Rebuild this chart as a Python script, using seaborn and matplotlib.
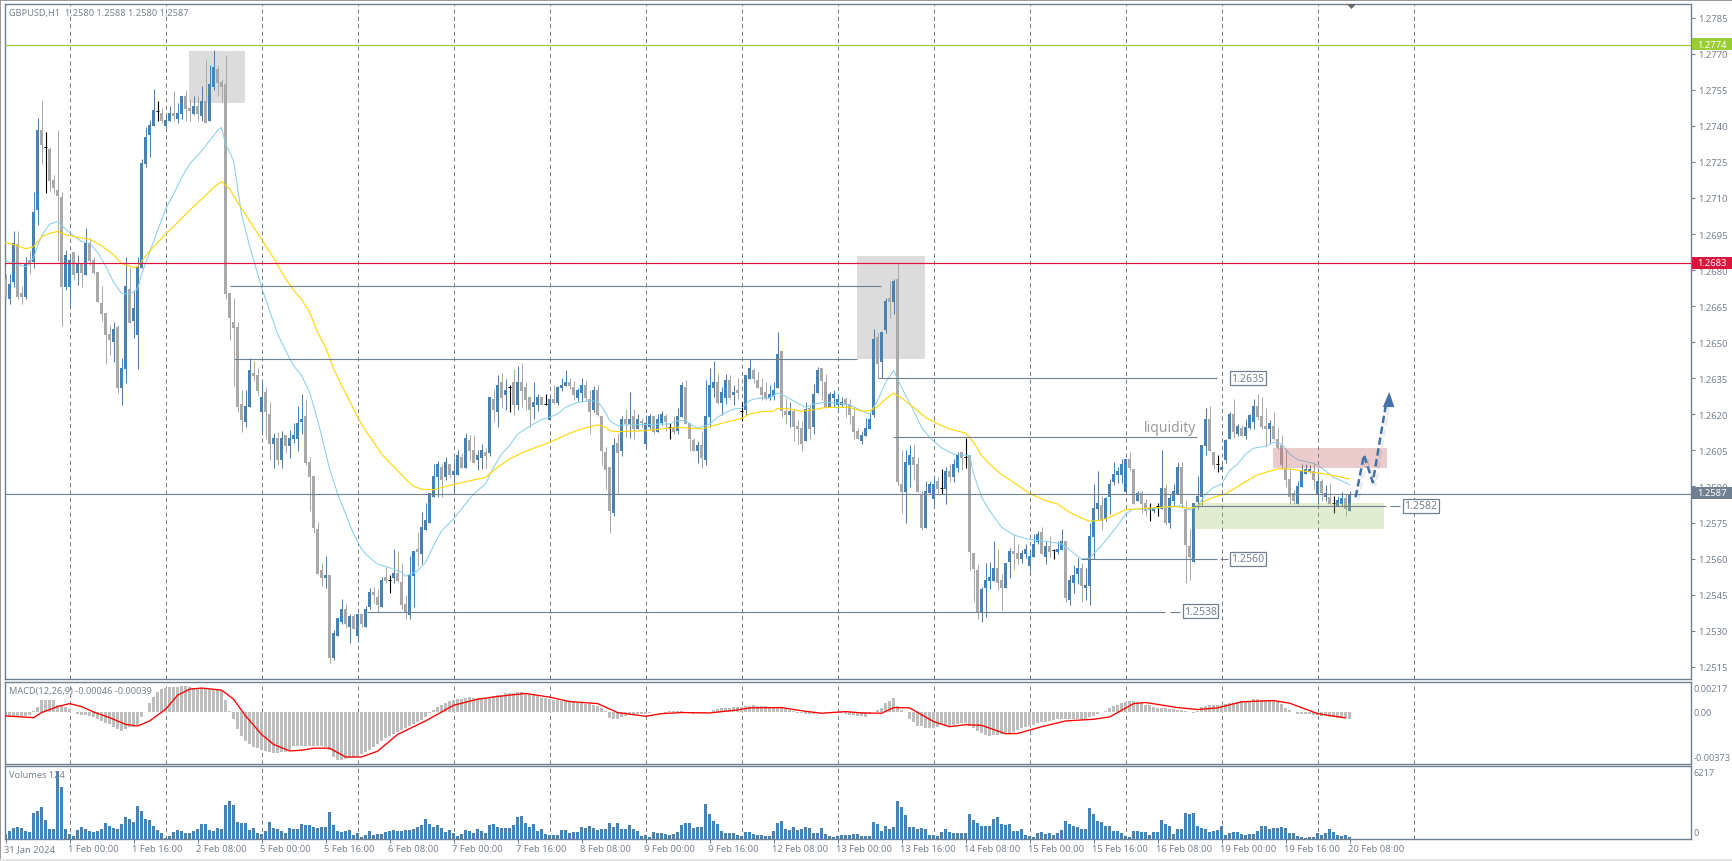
#!/usr/bin/env python
# GBPUSD H1 chart, MT4 look: candles, two EMAs, MACD and volumes

import numpy as np
import matplotlib.pyplot as plt
import seaborn as sns
from matplotlib.patches import Rectangle, Polygon
from matplotlib.lines import Line2D
from matplotlib.transforms import ScaledTranslation
import matplotlib.patheffects as pe

# prices are in pips (12676.3 = 1.26763)
OPEN = [
    12676.3,12668.0,12675.1,12690.9,12670.5,12669.0,12684.2,12683.2,12705.1,12738.3,
    12731.1,12730.4,12717.5,12713.3,12710.4,12673.1,12673.1,12687.5,12678.8,12682.5,
    12678.0,12691.3,12684.2,12679.2,12666.3,12662.2,12653.4,12650.1,12656.3,12631.0,
    12638.9,12672.1,12658.8,12653.0,12680.9,12724.1,12736.2,12740.0,12746.3,12745.4,
    12740.0,12742.0,12745.4,12742.9,12744.9,12752.4,12747.4,12744.9,12748.3,12744.1,
    12750.4,12742.0,12756.2,12763.7,12758.3,12757.4,12670.5,12658.4,12656.3,12624.3,
    12616.8,12623.1,12637.2,12636.4,12621.0,12629.3,12620.1,12607.7,12610.2,12601.0,
    12611.4,12606.8,12609.7,12609.7,12616.8,12619.3,12600.2,12594.4,12572.3,12555.3,
    12551.9,12553.2,12518.6,12527.8,12533.6,12539.0,12531.5,12536.1,12527.8,12537.0,
    12531.5,12539.9,12546.1,12544.0,12539.9,12552.3,12551.0,12551.9,12554.0,12550.3,
    12541.1,12536.5,12552.8,12564.0,12561.9,12571.9,12574.8,12585.6,12593.9,12598.1,
    12593.9,12599.3,12594.8,12594.8,12602.3,12597.7,12609.3,12605.2,12601.0,12601.9,
    12604.3,12603.9,12626.4,12621.0,12633.5,12628.1,12631.4,12633.5,12623.9,12633.5,
    12631.4,12627.2,12623.1,12623.9,12627.2,12624.3,12617.7,12626.4,12624.7,12631.0,
    12631.8,12633.5,12631.4,12626.8,12628.9,12632.2,12626.4,12621.8,12630.1,12619.3,
    12604.3,12598.1,12579.0,12608.1,12604.8,12618.1,12616.0,12619.3,12613.9,12617.2,
    12607.7,12614.7,12619.3,12612.7,12616.4,12619.3,12614.7,12614.7,12613.1,12618.9,
    12631.4,12616.4,12609.3,12604.8,12607.3,12601.0,12618.9,12631.0,12633.5,12624.7,
    12626.8,12634.3,12628.1,12630.1,12621.4,12621.8,12634.7,12638.5,12634.3,12631.4,
    12629.3,12626.8,12627.6,12631.0,12646.4,12621.4,12619.7,12621.4,12615.2,12614.3,
    12608.9,12622.6,12614.7,12628.9,12639.3,12633.5,12623.1,12626.8,12623.9,12623.9,
    12626.4,12624.3,12619.3,12613.1,12608.9,12611.0,12613.9,12619.7,12652.2,12641.8,
    12655.1,12668.4,12666.7,12676.3,12591.0,12587.7,12598.9,12602.3,12599.3,12586.9,
    12572.7,12587.3,12584.8,12592.3,12589.2,12588.9,12596.4,12593.9,12597.7,12604.3,
    12602.3,12603.1,12562.3,12555.3,12537.8,12547.8,12550.7,12550.7,12556.1,12551.1,
    12547.8,12558.6,12563.2,12562.3,12559.8,12561.9,12556.9,12560.8,12566.9,12571.1,
    12560.7,12565.2,12563.6,12562.7,12563.6,12567.3,12542.8,12549.8,12553.6,12556.1,
    12547.8,12548.6,12569.0,12580.6,12582.3,12576.5,12585.6,12591.9,12594.8,12594.8,
    12587.7,12601.4,12597.3,12584.0,12587.3,12583.1,12580.9,12579.8,12581.9,12580.6,
    12589.4,12574.8,12584.0,12586.9,12598.1,12580.6,12565.2,12558.6,12583.5,12585.6,
    12606.8,12618.1,12604.3,12599.3,12596.9,12601.0,12609.8,12620.2,12611.8,12614.3,
    12611.0,12614.3,12616.8,12623.5,12619.3,12615.2,12613.9,12615.2,12609.8,12607.3,
    12597.7,12593.1,12587.3,12582.7,12589.8,12595.2,12596.0,12596.4,12586.9,12592.3,
    12585.6,12585.6,12583.1,12581.9,12582.7,12585.2,12579.8]

HIGH = [
    12678.4,12678.4,12696.1,12696.3,12673.5,12685.3,12687.8,12712.5,12743.3,12750.5,
    12737.5,12731.1,12719.6,12738.3,12712.4,12688.4,12685.3,12687.5,12686.2,12682.5,
    12697.5,12693.4,12685.6,12679.2,12673.4,12662.2,12657.2,12658.4,12657.2,12643.4,
    12685.3,12681.4,12671.2,12685.3,12726.2,12739.7,12742.4,12755.3,12750.4,12747.4,
    12744.5,12748.3,12754.5,12749.5,12752.4,12754.9,12751.2,12752.4,12752.4,12756.6,
    12767.4,12765.3,12771.6,12764.9,12759.5,12769.5,12670.5,12668.4,12658.4,12630.1,
    12630.1,12643.4,12642.2,12639.3,12633.9,12631.4,12625.1,12612.2,12612.7,12613.1,
    12611.4,12613.5,12616.4,12623.5,12628.5,12626.4,12602.3,12594.4,12575.2,12558.2,
    12561.1,12553.2,12530.3,12535.3,12543.2,12541.1,12537.0,12537.0,12537.0,12537.0,
    12540.3,12547.8,12548.2,12547.4,12552.3,12556.5,12553.2,12564.0,12563.2,12558.2,
    12544.9,12561.1,12563.2,12571.1,12579.4,12583.1,12587.3,12599.3,12600.6,12599.3,
    12602.3,12599.3,12601.8,12605.2,12603.9,12612.3,12611.4,12611.4,12605.2,12607.7,
    12606.0,12627.2,12630.6,12636.4,12637.2,12634.7,12632.2,12638.9,12640.1,12641.4,
    12633.5,12627.2,12633.5,12628.5,12627.2,12628.5,12627.2,12632.2,12631.8,12635.1,
    12638.5,12635.1,12633.9,12631.0,12635.1,12633.9,12630.1,12631.8,12632.2,12619.3,
    12606.4,12598.1,12610.2,12612.3,12619.3,12622.2,12629.3,12622.2,12620.2,12618.5,
    12619.7,12620.2,12619.3,12620.2,12621.4,12620.2,12616.4,12619.3,12622.7,12633.5,
    12634.3,12616.4,12610.2,12608.9,12613.1,12634.3,12639.3,12642.2,12636.8,12631.4,
    12636.8,12636.4,12632.2,12635.1,12625.1,12636.4,12643.0,12639.3,12637.6,12635.1,
    12633.5,12632.2,12633.5,12654.3,12646.4,12626.8,12625.1,12622.2,12617.7,12617.2,
    12625.1,12623.9,12632.6,12639.7,12639.3,12636.8,12629.3,12630.1,12628.5,12627.2,
    12627.2,12626.4,12623.1,12614.3,12613.1,12618.5,12620.6,12655.5,12653.9,12654.3,
    12668.4,12675.5,12676.3,12683.2,12605.2,12605.2,12607.3,12607.3,12602.3,12588.1,
    12592.3,12592.3,12593.9,12593.9,12597.3,12598.1,12599.3,12601.4,12604.3,12604.3,
    12610.2,12603.1,12562.3,12557.3,12548.0,12558.2,12558.6,12567.3,12564.0,12553.6,
    12558.2,12564.4,12570.2,12566.1,12563.6,12566.1,12564.0,12570.2,12571.5,12573.1,
    12567.3,12569.4,12564.0,12567.3,12572.3,12567.3,12553.2,12557.3,12560.2,12558.2,
    12556.1,12574.8,12591.0,12596.4,12586.0,12585.6,12593.1,12600.2,12598.1,12601.4,
    12601.4,12604.3,12597.3,12588.1,12588.1,12584.8,12583.1,12581.4,12583.1,12605.2,
    12591.0,12586.9,12591.0,12600.2,12600.2,12584.0,12572.3,12583.1,12594.4,12607.3,
    12622.7,12623.5,12604.3,12603.1,12599.3,12609.8,12621.0,12626.4,12616.0,12615.6,
    12618.1,12620.2,12626.4,12628.5,12627.2,12622.7,12617.7,12621.0,12614.3,12611.4,
    12605.6,12597.3,12588.5,12592.3,12599.3,12599.3,12598.9,12599.8,12596.0,12593.1,
    12590.6,12591.4,12586.0,12586.0,12587.7,12586.9,12588.1]

LOW = [
    12668.7,12665.9,12672.8,12668.0,12665.9,12668.0,12678.4,12680.9,12698.8,12724.1,
    12712.1,12713.0,12712.1,12683.9,12656.8,12671.7,12665.2,12675.9,12673.7,12673.1,
    12678.0,12682.3,12678.4,12666.7,12659.0,12640.9,12644.7,12641.8,12628.9,12624.0,
    12633.0,12658.0,12651.8,12638.9,12680.9,12722.9,12727.1,12740.0,12742.0,12741.2,
    12739.1,12742.0,12742.0,12741.2,12742.9,12742.0,12742.0,12744.5,12742.0,12742.0,
    12741.2,12742.0,12754.9,12752.8,12749.9,12668.0,12650.9,12631.8,12621.0,12612.7,
    12614.7,12623.1,12633.9,12628.0,12612.7,12609.7,12601.0,12597.7,12598.9,12597.7,
    12603.9,12601.8,12608.1,12604.8,12611.8,12598.9,12579.8,12570.6,12553.6,12548.6,
    12547.8,12516.6,12517.8,12527.8,12532.8,12531.1,12524.9,12530.7,12525.3,12531.5,
    12531.5,12539.0,12541.5,12537.6,12539.9,12549.8,12545.7,12549.8,12550.3,12539.0,
    12534.9,12534.9,12539.9,12557.1,12557.8,12571.9,12574.8,12585.6,12585.6,12585.6,
    12592.7,12593.5,12587.7,12594.8,12597.7,12597.7,12600.6,12599.8,12596.9,12597.3,
    12597.7,12602.7,12616.8,12614.7,12622.6,12621.8,12621.0,12619.7,12621.8,12623.1,
    12621.8,12614.7,12618.1,12621.4,12623.9,12623.9,12617.7,12624.3,12623.9,12629.7,
    12631.8,12630.6,12626.0,12625.6,12625.1,12625.6,12611.8,12621.0,12619.3,12598.9,
    12589.0,12570.7,12577.7,12586.9,12602.7,12610.6,12610.2,12609.8,12613.9,12614.7,
    12605.6,12613.9,12611.8,12612.7,12615.6,12613.1,12609.8,12611.8,12611.8,12618.9,
    12616.0,12604.8,12604.8,12599.8,12597.7,12598.9,12614.7,12627.2,12624.3,12619.7,
    12624.3,12626.4,12623.9,12626.4,12617.2,12619.7,12634.7,12633.1,12631.0,12626.0,
    12626.0,12626.0,12626.0,12631.0,12618.9,12616.0,12614.7,12608.9,12607.7,12604.8,
    12608.9,12609.8,12611.8,12628.9,12626.0,12622.6,12623.1,12623.1,12622.2,12623.1,
    12618.9,12616.0,12609.8,12609.8,12607.7,12611.0,12613.9,12618.9,12635.1,12635.1,
    12653.8,12660.1,12661.7,12590.2,12579.0,12574.8,12589.8,12592.7,12587.7,12571.9,
    12572.7,12587.3,12581.9,12587.3,12586.9,12582.7,12591.9,12591.9,12596.0,12596.9,
    12597.7,12555.3,12541.9,12534.9,12533.6,12535.7,12547.4,12550.7,12546.9,12538.8,
    12547.8,12551.9,12555.7,12557.8,12558.2,12560.2,12555.0,12560.8,12566.1,12561.9,
    12557.8,12560.7,12559.8,12561.9,12563.6,12541.9,12540.7,12545.7,12549.4,12541.9,
    12542.8,12540.7,12559.8,12576.0,12571.9,12575.6,12578.5,12590.6,12591.4,12591.4,
    12587.7,12596.9,12582.7,12584.0,12579.0,12577.7,12575.6,12579.0,12577.7,12580.6,
    12574.0,12572.7,12581.9,12586.9,12581.0,12549.9,12551.2,12558.6,12580.6,12582.3,
    12603.1,12604.8,12597.3,12596.0,12596.9,12599.8,12609.8,12610.2,12611.0,12611.0,
    12609.8,12613.9,12613.9,12617.7,12613.9,12606.4,12608.1,12609.3,12605.6,12597.3,
    12589.8,12582.7,12582.7,12582.7,12589.8,12595.2,12595.6,12589.0,12582.7,12584.0,
    12584.0,12582.7,12579.0,12581.9,12581.9,12577.7,12579.8]

CLOSE = [
    12668.7,12674.2,12691.3,12669.0,12669.0,12683.1,12683.1,12704.2,12738.3,12732.0,
    12731.1,12717.2,12714.2,12710.8,12673.1,12686.3,12684.2,12678.0,12682.5,12678.8,
    12691.3,12683.8,12678.8,12666.7,12661.7,12653.0,12650.9,12655.5,12631.0,12639.3,
    12673.4,12658.0,12664.2,12681.4,12724.6,12735.4,12740.4,12746.6,12746.3,12742.0,
    12742.4,12745.4,12744.1,12745.4,12752.4,12747.0,12746.2,12748.3,12744.9,12750.4,
    12741.2,12757.4,12764.5,12757.8,12756.2,12670.1,12660.1,12655.9,12623.1,12617.7,
    12623.5,12638.4,12636.0,12629.7,12627.2,12621.0,12607.7,12610.2,12601.0,12610.2,
    12606.8,12610.2,12611.4,12616.4,12618.1,12599.8,12593.9,12572.7,12553.6,12551.9,
    12553.2,12518.6,12529.0,12535.3,12539.0,12532.8,12536.1,12530.7,12537.0,12532.8,
    12539.0,12546.1,12544.9,12540.7,12551.1,12550.7,12551.0,12554.0,12550.7,12540.7,
    12537.6,12553.2,12563.2,12562.7,12573.1,12576.1,12587.3,12594.4,12599.3,12592.7,
    12600.2,12594.8,12596.4,12603.1,12597.7,12610.2,12604.8,12599.8,12603.1,12605.2,
    12602.7,12627.2,12621.8,12632.2,12626.8,12630.1,12631.4,12623.9,12633.5,12629.7,
    12626.0,12621.8,12625.1,12627.2,12623.9,12624.3,12626.4,12624.7,12631.4,12632.2,
    12633.5,12631.8,12628.1,12630.1,12632.2,12626.8,12621.0,12630.1,12619.7,12604.8,
    12596.9,12579.8,12607.3,12603.9,12618.1,12616.0,12618.1,12613.9,12618.1,12616.4,
    12616.4,12619.3,12612.7,12618.1,12620.2,12616.8,12614.7,12612.7,12619.3,12632.2,
    12616.0,12609.8,12604.8,12607.3,12601.9,12619.3,12632.2,12633.5,12624.7,12629.3,
    12634.3,12626.8,12629.3,12628.9,12621.4,12636.4,12639.3,12634.7,12631.0,12628.1,
    12626.4,12628.5,12630.1,12645.1,12621.4,12619.7,12621.4,12614.7,12613.9,12607.7,
    12622.2,12613.9,12628.5,12638.5,12633.9,12623.1,12628.5,12628.5,12626.4,12625.1,
    12623.9,12619.7,12612.7,12609.8,12611.4,12614.3,12618.1,12651.4,12641.0,12654.3,
    12667.1,12666.7,12675.5,12591.9,12587.7,12600.2,12603.1,12598.9,12587.7,12572.7,
    12588.1,12591.0,12591.0,12588.9,12589.2,12596.4,12593.9,12599.3,12603.1,12601.8,
    12602.3,12562.7,12555.7,12537.8,12547.4,12551.1,12552.3,12556.1,12549.8,12547.8,
    12558.2,12563.2,12561.9,12559.8,12562.3,12564.0,12561.1,12566.1,12570.2,12561.9,
    12565.2,12562.7,12563.6,12564.0,12567.3,12543.6,12551.1,12553.2,12556.1,12548.6,
    12549.0,12569.4,12581.0,12583.1,12575.6,12585.2,12591.0,12595.2,12596.4,12599.3,
    12601.4,12597.7,12582.7,12587.3,12582.7,12579.8,12580.9,12581.0,12581.9,12589.4,
    12574.8,12585.2,12588.1,12598.1,12582.7,12565.7,12560.7,12583.1,12586.0,12607.3,
    12618.1,12604.8,12598.9,12599.3,12598.1,12609.3,12620.2,12612.7,12615.2,12611.0,
    12614.7,12619.7,12623.5,12618.9,12614.7,12613.9,12616.4,12609.8,12606.0,12598.9,
    12592.7,12585.6,12584.0,12590.2,12596.4,12597.3,12597.3,12592.7,12592.3,12587.3,
    12587.3,12582.7,12583.1,12584.4,12585.2,12580.6,12586.9]

VOLUME = [
    458,732,1037,1098,976,732,671,2410,2562,2928,
    1738,915,915,6217,4697,946,488,275,824,1098,
    915,763,671,732,946,1464,1159,1037,946,1373,
    2013,1830,1556,3020,2562,1830,1739,1190,824,549,
    122,275,641,824,732,549,580,732,915,1373,
    1373,824,702,976,915,3081,3477,3111,1556,1495,
    1434,824,976,549,458,732,1556,1037,915,763,
    519,976,915,946,1373,1251,1251,1068,976,1129,
    1098,2471,1281,732,641,763,793,366,580,214,
    366,732,366,458,488,671,732,824,763,763,
    824,824,946,1098,1281,1830,1373,1129,1251,976,
    671,824,519,275,458,793,732,580,946,702,
    519,1281,1373,1129,1007,1007,1037,1281,2044,2105,
    1434,1129,1342,763,915,427,366,397,366,824,
    824,519,641,641,1068,976,1190,1007,824,885,
    946,1464,1129,1464,915,946,1312,946,702,305,
    336,153,641,580,519,458,397,458,671,1281,
    1434,1464,1007,1129,1129,3203,2288,1647,1403,732,
    519,549,549,366,244,641,641,458,366,366,
    305,275,732,1434,1647,946,824,1129,824,946,
    1068,1037,580,519,1007,458,305,214,305,336,
    397,366,458,427,305,305,305,1586,1403,732,
    1190,946,1098,3477,2928,2196,1098,1098,915,976,
    915,366,366,244,641,915,641,549,549,549,
    549,2288,1739,1464,1190,1190,1190,1830,2013,1373,
    1281,1373,732,732,915,366,275,183,580,641,
    458,549,366,549,824,1647,1373,1220,1098,915,
    915,2837,2288,1647,1556,1190,1190,732,732,580,
    275,183,732,732,641,641,366,641,641,1739,
    1373,1190,458,915,915,2379,2288,2379,1190,1007,
    915,641,732,824,1190,366,549,641,641,458,
    366,458,458,732,1190,1190,946,1007,1007,1098,
    1007,549,549,275,183,61,183,183,549,366,
    549,915,641,366,275,366,183]

# MACD histogram in units of 0.00001
MACD_HIST = [
    -27,-29,-29,-29,-29,-29,-17,10,39,88,
    88,88,88,54,51,41,22,2,-15,-20,
    -20,-24,-34,-46,-61,-76,-88,-105,-120,-137,
    -120,-110,-105,-95,-32,2,71,110,144,168,
    173,181,183,185,188,190,181,178,176,173,
    173,168,168,163,163,88,12,-51,-120,-173,
    -210,-234,-251,-261,-271,-281,-288,-295,-295,-290,
    -290,-271,-246,-246,-244,-242,-242,-242,-242,-244,
    -249,-273,-325,-349,-344,-339,-334,-329,-325,-305,
    -288,-271,-249,-227,-207,-190,-173,-159,-142,-127,
    -112,-100,-85,-73,-59,-32,-7,17,37,51,
    71,81,90,95,100,105,110,107,107,107,
    107,107,115,124,129,137,139,142,144,144,
    139,134,127,115,107,102,95,88,88,85,
    83,81,76,71,71,63,59,51,44,29,
    12,-41,-46,-49,-37,-27,-20,-15,-15,-15,
    -10,-5,2,2,0,-2,7,7,12,7,
    -2,-5,-10,-7,-5,-2,5,15,24,29,
    32,34,37,37,41,44,46,51,49,46,
    44,41,39,34,32,27,17,7,-2,-7,
    -12,-12,-10,-5,2,2,0,0,-2,-7,
    -12,-17,-22,-24,-27,-34,-15,0,15,34,
    71,85,102,49,20,0,-49,-73,-98,-102,
    -112,-117,-115,-110,-93,-102,-98,-93,-83,-78,
    -81,-98,-112,-137,-154,-163,-173,-168,-163,-159,
    -154,-154,-142,-127,-117,-110,-98,-90,-81,-73,
    -68,-61,-54,-51,-51,-51,-51,-49,-51,-56,
    -49,-34,-27,-12,5,12,29,49,56,66,
    76,85,83,73,66,56,51,39,34,32,
    29,27,27,20,15,10,0,-7,12,37,
    49,54,54,56,56,61,66,68,78,81,
    85,85,93,93,90,88,88,85,73,59,
    32,15,0,-12,-12,-12,-15,-17,-22,-24,
    -27,-32,-37,-41,-44,-44,-46]

# the indicator lines are read at these bars only
SIGNAL_BARS = [0,3,7,9,13,16,19,22,26,30,33,36,40,43,46,49,54,57,60,64,67,71,74,77,81,85,89,93,98,105,
               112,118,123,130,136,141,148,153,160,164,169,176,183,186,194,200,204,210,214,219,222,226,
               232,236,240,244,250,253,259,265,272,276,282,285,293,298,303,309,317,321,328,335]
SIGNAL = [-27,-32,-39,-2,41,63,41,2,-39,-88,-100,-63,22,124,168,176,161,95,-27,-161,-234,-281,-276,-261,-261,
          -325,-325,-283,-161,-63,51,95,115,137,110,78,63,-2,-29,-10,-2,-5,17,32,34,7,-7,5,-5,-7,34,32,
          -68,-105,-90,-95,-156,-154,-105,-63,-51,-34,63,71,34,20,32,76,85,66,-10,-41]

EMA_FAST_BARS = [0,5,6,7,9,11,13,15,17,19,21,23,25,27,29,31,33,34,36,38,40,42,44,46,49,51,53,54,55,57,59,61,64,66,68,70,
                 72,74,76,77,79,81,83,85,87,89,90,93,96,99,100,103,105,107,109,112,117,120,122,124,126,128,130,132,134,
                 136,138,140,143,146,148,150,151,153,156,160,164,166,168,170,171,173,176,178,180,182,184,186,188,191,193,
                 195,198,200,202,205,208,211,214,216,218,220,222,223,224,227,229,231,234,237,241,242,244,246,249,252,256,
                 260,264,269,271,274,278,280,282,286,294,296,298,300,302,304,306,308,310,312,315,317,319,321,323,327,329,332,336]
EMA_FAST = [12683.9,12681.4,12682.5,12685.3,12694.3,12699.1,12700.2,12697.0,12694.3,12691.9,12691.1,12687.4,12681.8,12674.9,
            12670.3,12670.0,12672.1,12678.3,12687.4,12696.4,12705.4,12711.6,12718.5,12724.1,12729.6,12733.8,12738.2,12739.3,
            12732.4,12725.5,12703.0,12690.0,12672.8,12663.1,12653.4,12646.5,12640.2,12636.1,12629.2,12623.6,12611.1,12597.3,
            12586.9,12578.5,12570.2,12564.0,12561.9,12557.7,12556.2,12554.3,12552.6,12554.9,12558.4,12565.4,12571.6,12576.5,
            12586.9,12591.0,12598.0,12603.5,12607.0,12611.8,12613.9,12616.0,12617.8,12618.8,12620.2,12622.9,12625.0,12625.7,
            12625.4,12620.8,12617.4,12615.3,12615.7,12615.7,12616.0,12616.0,12617.4,12617.4,12616.0,12614.2,12616.0,12618.8,
            12620.8,12622.2,12622.5,12625.7,12626.7,12626.8,12628.9,12627.5,12624.7,12622.9,12624.3,12625.0,12624.7,12623.9,
            12621.5,12620.1,12625.7,12633.3,12638.2,12634.7,12631.2,12621.5,12614.6,12610.4,12606.0,12603.5,12602.8,12595.2,
            12585.5,12579.9,12573.0,12569.8,12567.9,12567.2,12566.1,12559.8,12560.2,12565.4,12573.7,12578.6,12580.6,12580.6,
            12582.0,12580.3,12581.7,12586.9,12589.6,12591.0,12596.6,12599.3,12603.5,12605.9,12606.7,12608.4,12607.7,12603.5,
            12601.1,12599.6,12597.7,12593.8,12590.8]

EMA_SLOW_BARS = [0,3,5,7,9,11,13,15,18,21,24,27,29,32,33,35,37,40,43,46,49,52,54,56,58,64,67,70,72,74,76,78,80,82,84,86,88,
                 90,92,94,96,98,100,102,104,107,109,115,120,123,126,129,132,135,138,141,144,148,150,151,153,160,168,174,176,
                 180,184,186,189,192,193,196,199,202,205,211,214,216,218,220,222,224,227,230,233,236,240,242,244,246,249,252,
                 256,260,263,266,269,271,274,276,280,285,292,296,298,300,302,305,309,313,318,321,325,330,336]
EMA_SLOW = [12691.5,12690.1,12688.9,12689.7,12693.9,12695.3,12696.1,12694.7,12693.6,12692.9,12690.1,12686.4,12682.8,12681.1,
            12681.4,12685.9,12689.7,12695.0,12699.8,12704.9,12709.5,12714.4,12716.9,12713.7,12708.2,12692.7,12685.0,12676.3,
            12671.7,12667.7,12662.4,12654.1,12647.9,12638.9,12632.0,12625.7,12618.8,12613.2,12608.4,12603.5,12600.0,12596.6,
            12593.1,12590.0,12588.9,12588.6,12589.6,12592.0,12593.8,12598.0,12601.4,12603.9,12605.9,12607.7,12609.8,12612.2,
            12613.9,12615.6,12614.6,12613.2,12612.8,12613.2,12614.6,12613.9,12614.9,12616.7,12618.3,12620.2,12621.1,12621.3,
            12622.5,12622.2,12621.3,12621.9,12622.9,12622.9,12621.3,12621.5,12623.2,12626.4,12628.8,12626.8,12622.9,12618.7,
            12616.0,12613.9,12612.2,12608.4,12602.8,12599.3,12594.9,12591.7,12587.1,12584.1,12582.7,12579.2,12576.9,12575.5,
            12576.0,12577.2,12580.3,12580.9,12581.7,12580.9,12581.7,12584.1,12585.5,12586.9,12591.0,12594.9,12597.3,12597.3,
            12596.3,12595.2,12593.1]

PRICE_TICKS = [1.2785,1.2770,1.2755,1.2740,1.2725,1.2710,1.2695,1.2680,1.2665,1.2650,
               1.2635,1.2620,1.2605,1.2590,1.2575,1.2560,1.2545,1.2530,1.2515]
DATE_LABELS = ['31 Jan 2024','1 Feb 00:00','1 Feb 16:00','2 Feb 08:00','5 Feb 00:00','5 Feb 16:00',
               '6 Feb 08:00','7 Feb 00:00','7 Feb 16:00','8 Feb 08:00','9 Feb 00:00','9 Feb 16:00',
               '12 Feb 08:00','13 Feb 00:00','13 Feb 16:00','14 Feb 08:00','15 Feb 00:00','15 Feb 16:00',
               '16 Feb 08:00','19 Feb 00:00','19 Feb 16:00','20 Feb 08:00']

W, H = 1733, 862
BLUE = '#4682B4'
GRAY = '#A9A9A9'
SLATE = '#708090'
TEXT = '#77828F'
THIN = 0.72

sns.set_style('white')
plt.rcParams['font.family'] = ['Noto Sans', 'DejaVu Sans']
plt.rcParams['font.size'] = 7


def pane(top, bottom):
    ax = fig.add_axes([5 / W, 1 - bottom / H, 1686 / W, (bottom - top) / H])
    for s in ax.spines.values():
        s.set_color(SLATE)
        s.set_linewidth(1.0)
    ax.set_xlim(-0.15, 421.35)
    return ax


def fig_text(px, py, s, **kw):
    kw.setdefault('color', TEXT)
    kw.setdefault('fontsize', 6.6)
    kw.setdefault('va', 'center')
    return fig.text(px / W, 1 - py / H, s, **kw)


def price_label(x, price, s):
    # boxed text object next to a trend line
    ax.text(x, price, s, color=TEXT, fontsize=7.6, va='center', ha='left', zorder=9,
            bbox=dict(boxstyle='square,pad=0.14', fc='white', ec=SLATE, lw=0.9))


fig = plt.figure(figsize=(W / 100, H / 100), dpi=100, facecolor='white')
ax = pane(5, 680)
ax_macd = pane(683, 765)
ax_vol = pane(767, 840)

bars = np.arange(len(CLOSE))
o, hi, lo, c = [np.array(v) / 10000 for v in (OPEN, HIGH, LOW, CLOSE)]
up = c > o
down = c < o
doji = c == o

# time grid, one line per day
for a in (ax, ax_macd, ax_vol):
    for g in range(16, 353, 24):
        a.axvline(g, color=SLATE, lw=THIN, dashes=(4, 3.4), zorder=1.5)

# grey zones behind the candles
ax.add_patch(Rectangle((45.85, 1.27495), 14, 0.00216, fc='#DCDCDC', ec='none', zorder=1))
ax.add_patch(Rectangle((212.9, 1.26430), 17, 0.00429, fc='#DCDCDC', ec='none', zorder=1))

# candles
ax.vlines(bars[up], lo[up], hi[up], color=BLUE, lw=THIN, zorder=3)
ax.vlines(bars[down], lo[down], hi[down], color=GRAY, lw=THIN, zorder=3)
ax.vlines(bars[doji], lo[doji], hi[doji], color='black', lw=0.8, zorder=3)
ax.hlines(c[doji], bars[doji] - 0.45, bars[doji] + 0.45, color='black', lw=THIN, zorder=3)
ax.bar(bars[up], (c - o)[up], bottom=o[up], width=0.72, color=BLUE, linewidth=0, zorder=3.5)
ax.bar(bars[down], (o - c)[down], bottom=c[down], width=0.72, color=GRAY, linewidth=0, zorder=3.5)

sns.lineplot(x=EMA_FAST_BARS, y=np.array(EMA_FAST) / 10000, ax=ax, color='#87CEEB', lw=THIN,
             estimator=None, legend=False, zorder=4)
sns.lineplot(x=EMA_SLOW_BARS, y=np.array(EMA_SLOW) / 10000, ax=ax, color='#FFD700', lw=0.8,
             estimator=None, legend=False, zorder=4)

# horizontal levels and trend lines
ax.axhline(1.27738, color='#9ACD32', lw=0.85, zorder=5)
ax.axhline(1.2683, color='#DC143C', lw=0.85, zorder=5)
ax.axhline(1.2587, color=SLATE, lw=0.8, zorder=5)
ax.hlines(1.26733, 56, 218.8, color=SLATE, lw=0.8, zorder=5)
ax.hlines(1.26429, 57, 212.9, color=SLATE, lw=0.8, zorder=5)
ax.hlines(1.2635, 218, 302.8, color=SLATE, lw=0.8, zorder=5)
ax.hlines(1.26105, 221.9, 297.8, color=SLATE, lw=0.8, zorder=5)
ax.hlines(1.25597, 268.9, 302.8, color=SLATE, lw=0.8, zorder=5)
ax.hlines(1.25597, 303.5, 305.5, color=SLATE, lw=0.8, zorder=5)
ax.hlines(1.25377, 90.3, 289.9, color=SLATE, lw=0.8, zorder=5)
ax.hlines(1.25377, 291.2, 293.6, color=SLATE, lw=0.8, zorder=5)
ax.hlines(1.25819, 297, 345, color=SLATE, lw=0.8, zorder=8)
ax.hlines(1.25819, 346.2, 348.6, color=SLATE, lw=0.8, zorder=8)

price_label(306.4, 1.2635, '1.2635')
price_label(306.4, 1.2560, '1.2560')
price_label(294.6, 1.2538, '1.2538')
price_label(349.6, 1.2582, '1.2582')
ax.text(284.6, 1.26145, 'liquidity', color='#9C9C9C', fontsize=10, va='center', ha='left', zorder=9)

# supply and demand boxes over the candles
ax.add_patch(Rectangle((316.9, 1.25977), 28.5, 0.00083, fc=(192 / 255, 88 / 255, 88 / 255, 0.3), ec='none', zorder=7))
ax.add_patch(Rectangle((297.2, 1.25723), 47.3, 0.00108, fc=(158 / 255, 195 / 255, 105 / 255, 0.3), ec='none', zorder=7))

# projected path
shadow = [pe.SimpleLineShadow(offset=(2, -2), alpha=0.12, shadow_color='#555555'), pe.Normal()]
ax.add_line(Line2D([337.5, 339.6, 341.8, 345.1], [1.25855, 1.26031, 1.25917, 1.26243], color='#4472A8',
                   lw=1.8, dashes=(3, 1.4), zorder=8, path_effects=shadow))
ax.add_patch(Polygon([[345.9, 1.26293], [344.3, 1.26230], [347.2, 1.26230]], closed=True, fc='#4472A8',
                     ec='none', zorder=8))

ax.set_ylim(1.25099, 1.27907)
ax.yaxis.tick_right()
ax.set_yticks(PRICE_TICKS)
ax.set_yticklabels([f'{t:.4f}' for t in PRICE_TICKS])
ax.tick_params(axis='y', right=True, length=3, width=0.8, color=SLATE, labelcolor=TEXT, labelsize=6.8, pad=2.5)
ax.set_xticks([])

# MACD pane
sns.barplot(x=bars, y=np.array(MACD_HIST) / 100000, ax=ax_macd, native_scale=True, color='#BEBEBE',
            saturation=1, width=0.75, linewidth=0, errorbar=None, zorder=2)
sns.lineplot(x=SIGNAL_BARS, y=np.array(SIGNAL) / 100000, ax=ax_macd, color='red', lw=0.95,
             estimator=None, legend=False, zorder=3)
ax_macd.set_xlim(-0.15, 421.35)
ax_macd.set_ylim(-0.00376, 0.0022)
ax_macd.set(xlabel='', ylabel='', xticks=[], yticks=[])

# volumes pane
sns.barplot(x=bars, y=VOLUME, ax=ax_vol, native_scale=True, color=BLUE, saturation=1, width=0.75,
            linewidth=0, errorbar=None, zorder=2)
ax_vol.set_xlim(-0.15, 421.35)
ax_vol.set_ylim(0, 6645)
ax_vol.set(xlabel='', ylabel='', yticks=[])
ax_vol.set_xticks(np.arange(len(DATE_LABELS)) * 16)
ax_vol.set_xticklabels(DATE_LABELS, ha='left')
ax_vol.tick_params(axis='x', bottom=True, length=3, width=0.8, color=SLATE, labelcolor=TEXT, labelsize=6.8, pad=0.8)
nudge = ScaledTranslation(-2 / 100, 0, fig.dpi_scale_trans)
for lab in ax_vol.get_xticklabels():
    lab.set_transform(lab.get_transform() + nudge)

# pane captions and right hand labels
fig_text(9, 13.5, 'GBPUSD,H1  1.2580 1.2588 1.2580 1.2587')
fig_text(9, 692, 'MACD(12,26,9) -0.00046 -0.00039')
fig_text(9, 776, 'Volumes 124')
fig_text(1694, 690, '0.00217')
fig_text(1694, 713.5, '0.00')
fig_text(1694, 759, '-0.00373')
fig_text(1694, 774, '6217')
fig_text(1694, 834, '0')

# price badges on the axis
for price_y, label, col in [(45, '1.2774', '#9ACD32'), (264, '1.2683', '#DC143C'), (494, '1.2587', SLATE)]:
    fig.add_artist(Rectangle((1692 / W, 1 - (price_y + 6) / H), 40 / W, 12 / H, transform=fig.transFigure,
                             fc=col, ec='none', zorder=10))
    fig_text(1697, price_y, label, color='white', zorder=11, fontsize=6.8)

# shift marker at the top and the window edge
fig.add_artist(Polygon([[1347 / W, 1 - 5 / H], [1356 / W, 1 - 5 / H], [1351.5 / W, 1 - 10 / H]],
                       transform=fig.transFigure, fc='#666666', ec='none'))
fig.add_artist(Rectangle((0, 0), 1.5 / W, 1, transform=fig.transFigure, fc='#9A9A9A', ec='none'))
fig.add_artist(Rectangle((0, 1 - 1.5 / H), 1, 1.5 / H, transform=fig.transFigure, fc='#9A9A9A', ec='none'))
fig.add_artist(Rectangle((0, 0), 1, 2 / H, transform=fig.transFigure, fc='#E4E4E4', ec='none'))

fig.savefig('out.png', dpi=100)
